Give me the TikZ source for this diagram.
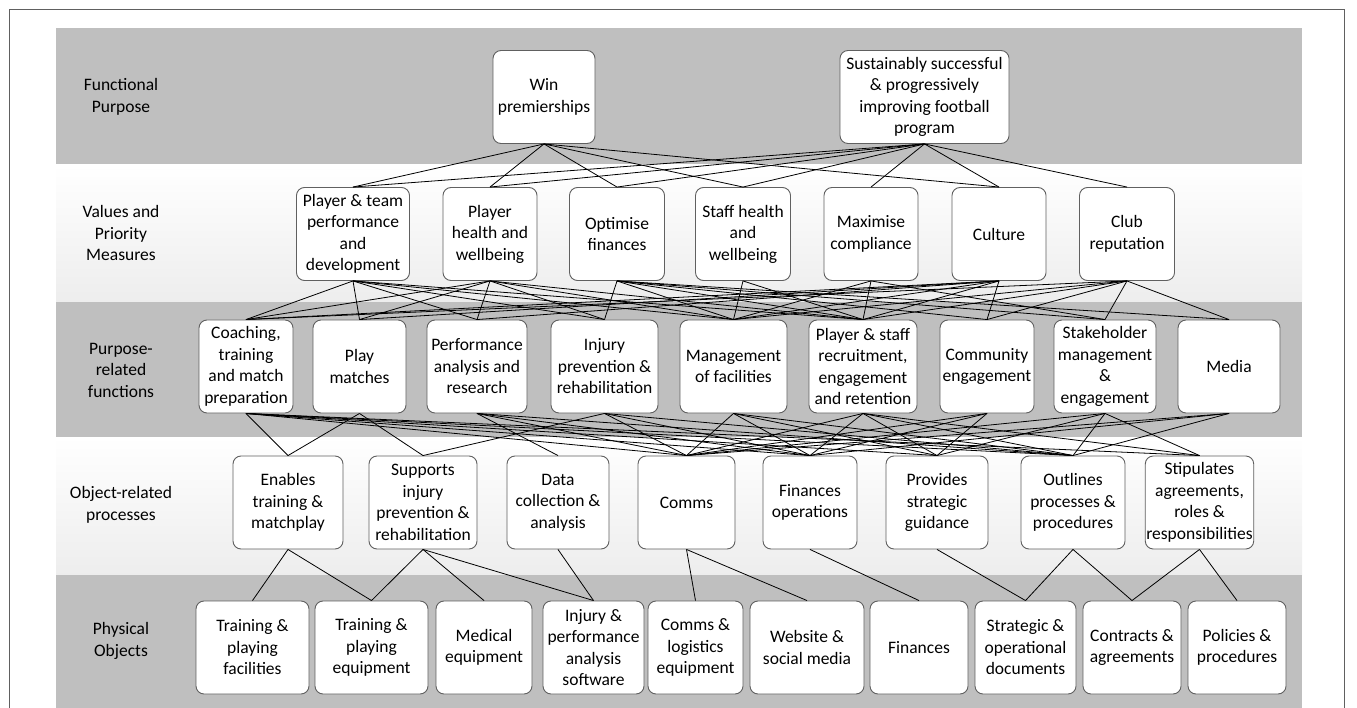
\documentclass[tikz,border=0pt]{standalone}
\usepackage{fontspec}
\setmainfont{Carlito}
\usepackage{xcolor}
\usepackage{tikz}
\definecolor{bandgray}{RGB}{191,191,191}
\definecolor{boxline}{RGB}{96,96,96}

\begin{document}
\begin{tikzpicture}[x=1pt, y=-1pt,
    cell/.style={draw=boxline, line width=0.9pt, rounded corners=8pt, fill=white, minimum width=#1, minimum height=93pt, inner sep=1pt, align=center, font=\fontsize{17.5}{21.5}\selectfont},
    lvl/.style={align=center, font=\fontsize{17.5}{21.5}\selectfont},
    link/.style={line width=0.8pt, black},
]
    \useasboundingbox (0,0) rectangle (1357,708);
    \draw[boxline, line width=1pt] (9,708) -- (9,10) -- (1344,10) -- (1344,708);

    \fill[bandgray] (56,28) rectangle (1302,165);
    \shade[top color=white, bottom color=gray!14] (56,165) rectangle (1302,302);
    \fill[bandgray] (56,302) rectangle (1302,437);
    \shade[top color=white, bottom color=gray!14] (56,437) rectangle (1302,575);
    \fill[bandgray] (56,575) rectangle (1302,708);

    \node[lvl] (l1) at (121,97) {Functional\\Purpose};
    \node[lvl] (l2) at (121,233) {Values and\\Priority\\Measures};
    \node[lvl] (l3) at (121,370) {Purpose-\\related\\functions};
    \node[lvl] (l4) at (121,505) {Object-related\\processes};
    \node[lvl] (l5) at (121,641) {Physical\\Objects};

    \node[cell=102pt] (fp1) at (544,97) {Win\\premierships};
    \node[cell=169pt] (fp2) at (924.5,97) {Sustainably successful\\\& progressively\\improving football\\program};

    \node[cell=113pt] (vp1) at (353,234) {Player \& team\\performance\\and\\development};
    \node[cell=94pt] (vp2) at (490,234) {Player\\health and\\wellbeing};
    \node[cell=95pt] (vp3) at (617,234) {Optimise\\finances};
    \node[cell=95pt] (vp4) at (743,234) {Staff health\\and\\wellbeing};
    \node[cell=94pt] (vp5) at (871,234) {Maximise\\compliance};
    \node[cell=94pt] (vp6) at (999,234) {Culture};
    \node[cell=95pt] (vp7) at (1127,234) {Club\\reputation};

    \node[cell=94pt] (pf1) at (246,366.5) {Coaching,\\training\\and match\\preparation};
    \node[cell=93pt] (pf2) at (359.5,366.5) {Play\\matches};
    \node[cell=100pt] (pf3) at (477,366.5) {Performance\\analysis and\\research};
    \node[cell=107pt] (pf4) at (604.5,366.5) {Injury\\prevention \&\\rehabilitation};
    \node[cell=107pt] (pf5) at (733.5,366.5) {Management\\of facilities};
    \node[cell=108pt] (pf6) at (863,366.5) {Player \& staff\\recruitment,\\engagement\\and retention};
    \node[cell=94pt] (pf7) at (987,366.5) {Community\\engagement};
    \node[cell=102pt] (pf8) at (1105,366.5) {Stakeholder\\management\\\&\\engagement};
    \node[cell=102pt] (pf9) at (1229,366.5) {Media};

    \node[cell=110pt] (op1) at (288,502.5) {Enables\\training \&\\matchplay};
    \node[cell=108pt] (op2) at (423,502.5) {Supports\\injury\\prevention \&\\rehabilitation};
    \node[cell=102pt] (op3) at (558,502.5) {Data\\collection \&\\analysis};
    \node[cell=97pt] (op4) at (686.5,502.5) {Comms};
    \node[cell=94pt] (op5) at (810,502.5) {Finances\\operations};
    \node[cell=102pt] (op6) at (937,502.5) {Provides\\strategic\\guidance};
    \node[cell=104pt] (op7) at (1073,502.5) {Outlines\\processes \&\\procedures};
    \node[cell=107pt] (op8) at (1199.5,502.5) {Stipulates\\agreements,\\roles \&\\responsibilities};

    \node[cell=113pt] (po1) at (252.5,647.5) {Training \&\\playing\\facilities};
    \node[cell=113pt] (po2) at (371.5,647.5) {Training \&\\playing\\equipment};
    \node[cell=96pt] (po3) at (484,647.5) {Medical\\equipment};
    \node[cell=101pt] (po4) at (593.5,647.5) {Injury \&\\performance\\analysis\\software};
    \node[cell=95pt] (po5) at (695.5,647.5) {Comms \&\\logistics\\equipment};
    \node[cell=114pt] (po6) at (807,647.5) {Website \&\\social media};
    \node[cell=98pt] (po7) at (919,647.5) {Finances};
    \node[cell=101pt] (po8) at (1025.5,647.5) {Strategic \&\\operational\\documents};
    \node[cell=98pt] (po9) at (1132,647.5) {Contracts \&\\agreements};
    \node[cell=98pt] (po10) at (1237,647.5) {Policies \&\\procedures};

    \draw[link] (fp1.south) edge (vp1.north) edge (vp2.north) edge (vp3.north) edge (vp4.north) edge (vp6.north);
    \draw[link] (fp2.south) edge (vp1.north) edge (vp2.north) edge (vp3.north) edge (vp4.north) edge (vp5.north) edge (vp6.north) edge (vp7.north);

    \draw[link] (vp1.south) edge (pf1.north) edge (pf2.north) edge (pf3.north) edge (pf4.north) edge (pf5.north) edge (pf6.north);
    \draw[link] (vp2.south) edge (pf1.north) edge (pf2.north) edge (pf3.north) edge (pf4.north) edge (pf5.north) edge (pf6.north);
    \draw[link] (vp3.south) edge (pf4.north) edge (pf5.north) edge (pf6.north) edge (pf7.north) edge (pf8.north) edge (pf9.north);
    \draw[link] (vp4.south) edge (pf5.north) edge (pf6.north);
    \draw[link] (vp5.south) edge (pf5.north) edge (pf6.north) edge (pf8.north);
    \draw[link] (vp6.south) edge (pf1.north) edge (pf2.north) edge (pf3.north) edge (pf5.north) edge (pf6.north) edge (pf7.north);
    \draw[link] (vp7.south) edge (pf1.north) edge (pf5.north) edge (pf6.north) edge (pf7.north) edge (pf8.north) edge (pf9.north);

    \draw[link] (pf1.south) edge (op1.north) edge (op4.north) edge (op5.north) edge (op6.north) edge (op7.north) edge (op8.north);
    \draw[link] (pf2.south) edge (op1.north) edge (op2.north);
    \draw[link] (pf3.south) edge (op3.north) edge (op4.north) edge (op5.north) edge (op7.north);
    \draw[link] (pf4.south) edge (op2.north) edge (op4.north) edge (op5.north) edge (op7.north);
    \draw[link] (pf5.south) edge (op4.north) edge (op5.north) edge (op6.north) edge (op7.north);
    \draw[link] (pf6.south) edge (op4.north) edge (op5.north) edge (op6.north) edge (op7.north) edge (op8.north);
    \draw[link] (pf7.south) edge (op4.north) edge (op5.north) edge (op6.north);
    \draw[link] (pf8.south) edge (op4.north) edge (op6.north) edge (op7.north) edge (op8.north);
    \draw[link] (pf9.south) edge (op4.north) edge (op5.north) edge (op7.north);

    \draw[link] (op1.south) edge (po1.north) edge (po2.north);
    \draw[link] (op2.south) edge (po2.north) edge (po3.north) edge (po4.north);
    \draw[link] (op3.south) edge (po4.north);
    \draw[link] (op4.south) edge (po5.north) edge (po6.north);
    \draw[link] (op5.south) edge (po7.north);
    \draw[link] (op6.south) edge (po8.north);
    \draw[link] (op7.south) edge (po8.north) edge (po9.north);
    \draw[link] (op8.south) edge (po9.north) edge (po10.north);
\end{tikzpicture}
\end{document}
